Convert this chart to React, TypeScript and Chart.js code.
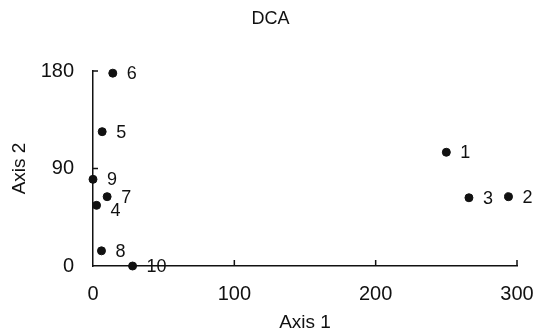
import React, { useEffect, useRef } from "react";
import { Chart, registerables } from "chart.js";

Chart.register(...registerables);

const pointLabels = ["1", "2", "3", "4", "5", "6", "7", "8", "9", "10"];
const axis1Values = [250, 294, 266, 2.5, 6.5, 14, 10, 6, 0, 28];
const axis2Values = [105, 64, 63, 56, 124, 178, 64, 14, 80, 0];
const xTickValues = [0, 100, 200, 300];
const yTickValues = [0, 90, 180];

const FONT = "'Liberation Sans', Arial, Helvetica, sans-serif";
const INK = "#111";
const labelDy: Record<string, number> = { "4": 5 };

const pointLabelPlugin = {
  id: "pointLabels",
  afterDatasetsDraw(chart: any) {
    const ctx = chart.ctx;
    const meta = chart.getDatasetMeta(0);
    ctx.save();
    ctx.font = `18px ${FONT}`;
    ctx.fillStyle = INK;
    ctx.textAlign = "left";
    ctx.textBaseline = "middle";
    meta.data.forEach((el: any, i: number) => {
      const lab = pointLabels[i];
      ctx.fillText(lab, el.x + 14, el.y + 1 + (labelDy[lab] || 0));
    });
    ctx.restore();
  },
};

const innerTicksPlugin = {
  id: "innerTicks",
  afterDraw(chart: any) {
    const ctx = chart.ctx;
    const { left, bottom } = chart.chartArea;
    const xs = chart.scales.x;
    const ys = chart.scales.y;
    ctx.save();
    ctx.strokeStyle = INK;
    ctx.lineWidth = 1.5;
    ctx.beginPath();
    xTickValues.filter((v) => v !== 0).forEach((v) => {
      const px = xs.getPixelForValue(v);
      ctx.moveTo(px, bottom);
      ctx.lineTo(px, bottom - 6);
    });
    yTickValues.filter((v) => v !== 0).forEach((v) => {
      const py = ys.getPixelForValue(v);
      ctx.moveTo(left, py);
      ctx.lineTo(left + 5, py);
    });
    ctx.stroke();
    ctx.restore();
  },
};

export default function App() {
  const ref = useRef<HTMLCanvasElement | null>(null);

  useEffect(() => {
    document.body.style.margin = "0";
    if (!ref.current) return;
    const chart = new Chart(ref.current, {
      type: "scatter",
      data: {
        datasets: [
          {
            data: axis1Values.map((x, i) => ({ x, y: axis2Values[i] })),
            backgroundColor: INK,
            borderColor: INK,
            pointRadius: 4,
            pointHoverRadius: 4,
            clip: false as any,
          },
        ],
      },
      options: {
        responsive: false,
        animation: false,
        devicePixelRatio: 1,
        layout: { padding: 0 },
        plugins: {
          legend: { display: false },
          tooltip: { enabled: false },
          title: {
            display: true,
            text: "DCA",
            color: INK,
            font: { family: FONT, size: 18, weight: "normal" },
            padding: { top: 8.5, bottom: 40.9 },
          },
        },
        scales: {
          x: {
            type: "linear",
            min: 0,
            max: 300,
            afterBuildTicks: (s: any) => {
              s.ticks = xTickValues.map((v) => ({ value: v }));
            },
            afterFit: (s: any) => {
              s.height = 68;
              s.paddingRight = 24;
            },
            grid: { display: false, drawTicks: false },
            border: { display: true, color: INK, width: 1.5 },
            ticks: {
              color: INK,
              padding: 16,
              maxRotation: 0,
              font: { family: FONT, size: 20 },
            },
            title: {
              display: true,
              text: "Axis 1",
              color: INK,
              font: { family: FONT, size: 19 },
              padding: { top: 0, bottom: 0 },
            },
          },
          y: {
            type: "linear",
            min: 0,
            max: 180,
            afterBuildTicks: (s: any) => {
              s.ticks = yTickValues.map((v) => ({ value: v }));
            },
            afterFit: (s: any) => {
              s.width = 93;
            },
            grid: { display: false, drawTicks: false },
            border: { display: true, color: INK, width: 1.5 },
            ticks: {
              color: INK,
              padding: 19,
              font: { family: FONT, size: 20 },
            },
            title: {
              display: true,
              text: "Axis 2",
              color: INK,
              font: { family: FONT, size: 19 },
              padding: { top: 8, bottom: 0 },
            },
          },
        },
      },
      plugins: [pointLabelPlugin, innerTicksPlugin],
    });
    return () => chart.destroy();
  }, []);

  return (
    <div>
      <canvas ref={ref} width={541} height={334} style={{ display: "block", width: 541, height: 334 }} />
    </div>
  );
}
